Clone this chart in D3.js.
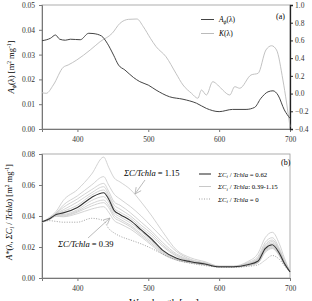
<!DOCTYPE html>
<html>
<head>
<meta charset="utf-8">
<script src="https://cdn.jsdelivr.net/npm/d3@7.9.0/dist/d3.min.js"></script>
<style>
  body { margin: 0; background: #fff; }
  svg, svg text { font-family: "Liberation Serif", serif; }
  .tick text { font-size: 7.5px; fill: #333; }
</style>
</head>
<body>
<svg id="chart" width="312" height="301" font-family="Liberation Serif, serif"></svg>
<script>
// panel (a)
const wlA = [350, 362, 369, 375, 383, 390, 404, 416, 422, 434, 442, 451, 458, 467, 479, 488, 500, 511,
  530, 549, 568, 582, 600, 619, 638, 650, 659, 669, 676, 683, 692, 700];
const aphi = [0.0356, 0.0366, 0.0379, 0.0362, 0.0358, 0.0362, 0.036, 0.0386, 0.0385, 0.0375, 0.0346,
  0.0298, 0.0258, 0.0238, 0.0208, 0.0191, 0.0177, 0.0157, 0.013, 0.012, 0.0104, 0.0083, 0.007, 0.0079,
  0.0079, 0.0087, 0.0124, 0.015, 0.0154, 0.0137, 0.0077, 0.0043];

const wlK = [350, 356, 366, 380, 387, 399, 418, 432, 449, 460, 472, 484, 493, 503, 511, 525, 539, 549,
  561, 570, 575, 582, 591, 598, 605, 615, 622, 629, 645, 655, 666, 674, 681, 690, 700];
const kVals = [0.01, 0.003, 0.097, 0.297, 0.323, 0.379, 0.492, 0.586, 0.68, 0.793, 0.838, 0.842, 0.755,
  0.624, 0.53, 0.416, 0.229, 0.097, 0.003, -0.053, 0.04, -0.016, 0.134, 0.097, 0.04, -0.016, 0.078, 0.06,
  0.21, 0.229, 0.492, 0.54, 0.492, 0.153, -0.374];

// panel (b)
const wlB = [350, 360, 370, 380, 400, 420, 437, 444, 452, 460, 475, 490, 505, 520, 540, 560, 580, 600,
  620, 640, 655, 665, 675, 685, 692, 700];
const meanLine = [0.0363, 0.038, 0.041, 0.042, 0.0455, 0.052, 0.055, 0.051, 0.0435, 0.041, 0.037, 0.031,
  0.025, 0.018, 0.0127, 0.0105, 0.009, 0.0073, 0.0073, 0.0085, 0.011, 0.019, 0.0215, 0.016, 0.0095, 0.004];
const zeroLine = [0.036, 0.037, 0.0365, 0.036, 0.036, 0.0385, 0.037, 0.032, 0.029, 0.027, 0.0245, 0.022,
  0.019, 0.0155, 0.0116, 0.0095, 0.008, 0.007, 0.0068, 0.0075, 0.0085, 0.0115, 0.0145, 0.012, 0.008, 0.004];
const grayLines = [
  [0.036, 0.039, 0.043, 0.050, 0.057, 0.067, 0.078, 0.0715, 0.0645, 0.062, 0.057, 0.049, 0.040, 0.030,
    0.018, 0.013, 0.0105, 0.0077, 0.0077, 0.0105, 0.016, 0.026, 0.0295, 0.022, 0.013, 0.004],
  [0.036, 0.0385, 0.042, 0.047, 0.053, 0.060, 0.0654, 0.060, 0.054, 0.051, 0.046, 0.040, 0.033, 0.026,
    0.017, 0.012, 0.0098, 0.0075, 0.0075, 0.0098, 0.014, 0.023, 0.026, 0.019, 0.0115, 0.004],
  [0.036, 0.0383, 0.0418, 0.0455, 0.051, 0.057, 0.061, 0.056, 0.049, 0.047, 0.042, 0.036, 0.030, 0.023,
    0.0155, 0.0115, 0.0095, 0.0074, 0.0074, 0.0092, 0.013, 0.0215, 0.0245, 0.018, 0.011, 0.004],
  [0.036, 0.0382, 0.0415, 0.044, 0.049, 0.055, 0.0589, 0.054, 0.047, 0.0445, 0.040, 0.034, 0.0285, 0.0215,
    0.0147, 0.011, 0.0093, 0.0073, 0.0073, 0.009, 0.0125, 0.0205, 0.0235, 0.0175, 0.0105, 0.004],
  [0.036, 0.038, 0.0412, 0.043, 0.047, 0.0535, 0.0568, 0.0525, 0.045, 0.0425, 0.0385, 0.0325, 0.027, 0.0205,
    0.014, 0.0108, 0.0092, 0.0073, 0.0073, 0.0088, 0.012, 0.0198, 0.0225, 0.017, 0.0102, 0.004],
  [0.036, 0.038, 0.0408, 0.041, 0.044, 0.050, 0.0525, 0.049, 0.042, 0.0395, 0.0355, 0.030, 0.024, 0.0175,
    0.0123, 0.0102, 0.0088, 0.0072, 0.0072, 0.0083, 0.0105, 0.0182, 0.0205, 0.0155, 0.0092, 0.004],
  [0.036, 0.0378, 0.0405, 0.0405, 0.0432, 0.048, 0.0503, 0.047, 0.0405, 0.038, 0.034, 0.0285, 0.023, 0.0168,
    0.012, 0.010, 0.0087, 0.0072, 0.0072, 0.0082, 0.0102, 0.0178, 0.020, 0.015, 0.009, 0.004],
  [0.036, 0.0377, 0.040, 0.040, 0.0425, 0.0465, 0.0486, 0.0455, 0.039, 0.0368, 0.033, 0.0275, 0.022, 0.0162,
    0.0118, 0.0099, 0.0086, 0.0071, 0.0071, 0.008, 0.010, 0.0172, 0.0195, 0.0147, 0.0088, 0.004],
  [0.036, 0.0376, 0.0398, 0.0395, 0.0415, 0.0445, 0.046, 0.0425, 0.037, 0.035, 0.0315, 0.0265, 0.021, 0.0155,
    0.0115, 0.0097, 0.0085, 0.0071, 0.0071, 0.0079, 0.0098, 0.0165, 0.019, 0.0142, 0.0086, 0.004]
];

const xTicks = [400, 500, 600, 700];
const yTicksA = [0, 0.01, 0.02, 0.03, 0.04, 0.05];
const yTicksK = [-0.4, -0.2, 0, 0.2, 0.4, 0.6, 0.8, 1.0];
const yTicksB = [0, 0.02, 0.04, 0.06, 0.08];

const FONT = '"Liberation Serif", serif';
const svg = d3.select('#chart');
const left = 42, right = 290;
const x = d3.scaleLinear().domain([350, 700]).range([left, right]);

const yA = d3.scaleLinear().domain([0, 0.05]).range([129, 5]);
const yK = d3.scaleLinear().domain([-0.4, 1.0]).range([129, 5]);
const yB = d3.scaleLinear().domain([0, 0.08]).range([278, 154]);

function styleAxis(g, color) {
  g.attr('font-family', FONT);
  g.select('.domain').attr('stroke', color);
  g.selectAll('.tick line').attr('stroke', color);
}

// frames
svg.append('rect').attr('x', left).attr('y', 5).attr('width', right - left).attr('height', 124)
  .attr('fill', 'none').attr('stroke', '#999').attr('stroke-width', 0.8);
svg.append('rect').attr('x', left).attr('y', 154).attr('width', right - left).attr('height', 124)
  .attr('fill', 'none').attr('stroke', '#999').attr('stroke-width', 0.8);

// axes panel a
svg.append('g').attr('transform', 'translate(0,129)')
  .call(d3.axisBottom(x).tickValues(xTicks).tickSize(3).tickPadding(5))
  .call(g => styleAxis(g, '#777'));
svg.append('g').attr('transform', `translate(${left},0)`)
  .call(d3.axisLeft(yA).tickValues(yTicksA).tickSize(3).tickFormat(d3.format('.2f')).tickPadding(4))
  .call(g => styleAxis(g, '#777'));
svg.append('g').attr('transform', `translate(${right},0)`)
  .call(d3.axisRight(yK).tickValues(yTicksK).tickSize(3).tickFormat(d3.format('.1f')).tickPadding(2))
  .call(g => styleAxis(g, '#222'))
  .call(g => g.select('.domain').attr('stroke-width', 1.3));

// axes panel b
svg.append('g').attr('transform', 'translate(0,278)')
  .call(d3.axisBottom(x).tickValues(xTicks).tickSize(3).tickPadding(5))
  .call(g => styleAxis(g, '#777'));
svg.append('g').attr('transform', `translate(${left},0)`)
  .call(d3.axisLeft(yB).tickValues(yTicksB).tickSize(3).tickFormat(d3.format('.2f')).tickPadding(4))
  .call(g => styleAxis(g, '#777'));

// curves
const lineOf = (wl, ys) => d3.line().curve(d3.curveMonotoneX).x((d, i) => x(wl[i])).y(d => ys(d));

svg.append('path').datum(kVals).attr('d', lineOf(wlK, yK))
  .attr('fill', 'none').attr('stroke', '#bbb').attr('stroke-width', 0.9);
svg.append('path').datum(aphi).attr('d', lineOf(wlA, yA))
  .attr('fill', 'none').attr('stroke', '#444').attr('stroke-width', 1);

grayLines.forEach(vals => {
  svg.append('path').datum(vals).attr('d', lineOf(wlB, yB))
    .attr('fill', 'none').attr('stroke', '#c8c8c8').attr('stroke-width', 0.8);
});
svg.append('path').datum(zeroLine).attr('d', lineOf(wlB, yB))
  .attr('fill', 'none').attr('stroke', '#888').attr('stroke-width', 0.8).attr('stroke-dasharray', '1,1.5');
svg.append('path').datum(meanLine).attr('d', lineOf(wlB, yB))
  .attr('fill', 'none').attr('stroke', '#333').attr('stroke-width', 1.1);

// legend panel a
function legendLine(y, color, dash, w) {
  svg.append('line').attr('x1', 201).attr('x2', 214).attr('y1', y).attr('y2', y)
    .attr('stroke', color).attr('stroke-width', w).attr('stroke-dasharray', dash);
}
legendLine(19.5, '#444', null, 1);
legendLine(33.5, '#bbb', null, 1);
let t = svg.append('text').attr('x', 219).attr('y', 22).attr('font-size', 7.5).attr('font-style', 'italic');
t.append('tspan').text('A');
t.append('tspan').attr('font-size', 5.5).attr('dy', 1.5).text('ϕ');
t.append('tspan').attr('dy', -1.5).attr('font-style', 'normal').text('(λ)');
t = svg.append('text').attr('x', 219).attr('y', 36).attr('font-size', 7.5).attr('font-style', 'italic');
t.append('tspan').text('K');
t.append('tspan').attr('font-style', 'normal').text('(λ)');
svg.append('text').attr('x', 276).attr('y', 19).attr('font-size', 8).text('(a)');

// y label panel a
t = svg.append('text').attr('transform', 'translate(14,67) rotate(-90)').attr('text-anchor', 'middle')
  .attr('font-size', 8.5);
t.append('tspan').attr('font-style', 'italic').text('A');
t.append('tspan').attr('font-size', 6).attr('dy', 2).attr('font-style', 'italic').text('ϕ');
t.append('tspan').attr('dy', -2).text('(λ) [m');
t.append('tspan').attr('font-size', 5.5).attr('dy', -3).text('2');
t.append('tspan').attr('dy', 3).text(' mg');
t.append('tspan').attr('font-size', 5.5).attr('dy', -3).text('-1');
t.append('tspan').attr('dy', 3).text(']');

// legend panel b
svg.append('text').attr('x', 281).attr('y', 165).attr('font-size', 8).text('(b)');
const legB = [
  { y: 174, color: '#333', dash: null, w: 1.1, label: ' = 0.62' },
  { y: 186.5, color: '#c8c8c8', dash: null, w: 1, label: ': 0.39-1.15' },
  { y: 199, color: '#888', dash: '1,1.5', w: 0.8, label: ' = 0' }
];
legB.forEach(d => {
  svg.append('line').attr('x1', 199).attr('x2', 211).attr('y1', d.y).attr('y2', d.y)
    .attr('stroke', d.color).attr('stroke-width', d.w).attr('stroke-dasharray', d.dash);
  const tt = svg.append('text').attr('x', 218).attr('y', d.y + 2.5).attr('font-size', 6.8);
  tt.append('tspan').attr('font-style', 'italic').text('ΣC');
  tt.append('tspan').attr('font-size', 5).attr('dy', 1.5).attr('font-style', 'italic').text('i');
  tt.append('tspan').attr('dy', -1.5).text(' / ');
  tt.append('tspan').attr('font-style', 'italic').text('Tchla');
  tt.append('tspan').text(d.label);
});

// annotations
function annot(tx, ty, label, ax1, ay1, ax2, ay2) {
  const tt = svg.append('text').attr('x', tx).attr('y', ty).attr('font-size', 8.5);
  tt.append('tspan').attr('font-style', 'italic').text('ΣC/Tchla');
  tt.append('tspan').text(label);
  svg.append('line').attr('x1', ax1).attr('y1', ay1).attr('x2', ax2).attr('y2', ay2)
    .attr('stroke', '#aaa').attr('stroke-width', 0.8);
  const ang = Math.atan2(ay2 - ay1, ax2 - ax1);
  [0.45, -0.45].forEach(da => {
    svg.append('line').attr('x1', ax2).attr('y1', ay2)
      .attr('x2', ax2 - 7 * Math.cos(ang + da)).attr('y2', ay2 - 7 * Math.sin(ang + da))
      .attr('stroke', '#aaa').attr('stroke-width', 0.8);
  });
}
annot(124, 176, ' = 1.15', 145, 180, 135, 194);
annot(58, 247, ' = 0.39', 88, 238, 110, 218);

// y label panel b
t = svg.append('text').attr('transform', 'translate(12,212) rotate(-90)').attr('text-anchor', 'middle')
  .attr('font-size', 8.5);
t.append('tspan').attr('font-style', 'italic').text('A*');
t.append('tspan').text('(λ, ');
t.append('tspan').attr('font-style', 'italic').text('ΣC');
t.append('tspan').attr('font-size', 6).attr('dy', 2).attr('font-style', 'italic').text('i');
t.append('tspan').attr('dy', -2).text(' / ');
t.append('tspan').attr('font-style', 'italic').text('Tchla');
t.append('tspan').text(') [m');
t.append('tspan').attr('font-size', 5.5).attr('dy', -3).text('2');
t.append('tspan').attr('dy', 3).text(' mg');
t.append('tspan').attr('font-size', 5.5).attr('dy', -3).text('-1');
t.append('tspan').attr('dy', 3).text(']');

// x label, cut by the bottom edge as in the original figure
svg.append('text').attr('x', 164).attr('y', 306).attr('text-anchor', 'middle').attr('font-size', 10)
  .text('Wavelength [nm]');
</script>
</body>
</html>
